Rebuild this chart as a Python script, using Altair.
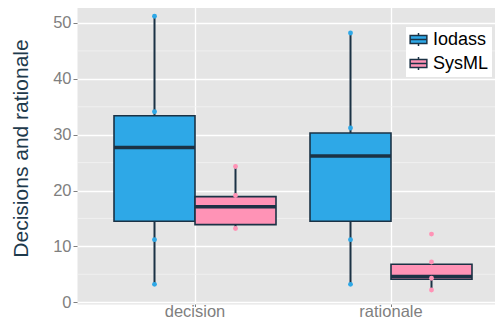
import altair as alt
import pandas as pd

# ---- data ----
categories = ["decision", "decision", "rationale", "rationale"]
groups = ["Iodass", "SysML", "Iodass", "SysML"]
lower = [3.2, 13.2, 3.2, 2.2]
q1 = [14.5, 13.9, 14.5, 4.1]
median = [27.7, 17.1, 26.2, 4.6]
q3 = [33.4, 18.9, 30.3, 6.8]
upper = [51.2, 24.3, 48.2, 7.2]

pt_category = ["decision"] * 7 + ["rationale"] * 8
pt_group = ["Iodass"] * 4 + ["SysML"] * 3 + ["Iodass"] * 4 + ["SysML"] * 4
pt_value = [51.2, 34.1, 11.2, 3.2, 24.3, 19.1, 13.2,
            48.2, 31.2, 11.2, 3.2, 12.2, 7.2, 4.3, 2.2]

y_ticks = [0, 10, 20, 30, 40, 50]
y_minor = [5, 15, 25, 35, 45]

series = ["Iodass", "SysML"]
colors = ["#2EA8E7", "#FF93B6"]
outline = "#1B3245"
FONT = "Liberation Sans"

box_df = pd.DataFrame({"category": categories, "group": groups, "lower": lower,
                       "q1": q1, "median": median, "q3": q3, "upper": upper})
pt_df = pd.DataFrame({"category": pt_category, "group": pt_group, "value": pt_value})
minor_df = pd.DataFrame({"v": y_minor})

xscale = alt.Scale(domain=["decision", "rationale"], paddingInner=0.1735,
                   paddingOuter=0.1531, align=0.6167)
yscale = alt.Scale(domain=[-0.32, 53.58], nice=False, zero=False)
offscale = alt.Scale(domain=series, paddingInner=0, paddingOuter=0)
fillscale = alt.Scale(domain=series, range=colors)

x_enc = alt.X("category:N", scale=xscale, title=None,
              axis=alt.Axis(bandPosition=0.5, labelAngle=0, labelFontSize=16.5,
                            labelColor="#7F7F7F", tickColor="#7F7F7F", tickSize=2.5,
                            labelPadding=10, labelBaseline="alphabetic",
                            domain=False, grid=True,
                            gridColor="white", gridWidth=1.3, labelFont=FONT))
y_axis = alt.Axis(values=y_ticks, labelFontSize=16.5, labelColor="#7F7F7F",
                  tickColor="#7F7F7F", tickSize=4, labelPadding=2, domain=False,
                  grid=True, gridColor="white", gridWidth=1.3, labelFont=FONT,
                  title="Decisions and rationale", titleFontSize=21,
                  titleColor="#1E3A4C", titleFontWeight="normal", titleFont=FONT,
                  titleX=-50, titleY=145, titleAngle=-90, titleAlign="center",
                  titleBaseline="alphabetic")

minor = alt.Chart(minor_df).mark_rule(color="#F2F2F2", strokeWidth=0.8).encode(
    y=alt.Y("v:Q", scale=yscale, axis=y_axis)
)

whisk = alt.Chart(box_df).mark_rule(color=outline, strokeWidth=2).encode(
    x=x_enc,
    xOffset=alt.XOffset("group:N", scale=offscale),
    y=alt.Y("lower:Q", scale=yscale),
    y2="upper:Q",
)

boxes = alt.Chart(box_df).mark_bar(stroke=outline, strokeWidth=1.6).encode(
    x=x_enc,
    xOffset=alt.XOffset("group:N", scale=offscale),
    y=alt.Y("q1:Q", scale=yscale),
    y2="q3:Q",
    fill=alt.Fill("group:N", scale=fillscale,
                  legend=alt.Legend(title=None, orient="none", legendX=329, legendY=24,
                                    padding=3, fillColor="white", labelColor="black",
                                    labelFontSize=18, labelFont=FONT, rowPadding=3,
                                    symbolType="M-1,-0.48H1V0.48H-1Z M0,-0.78V-0.48 M0,0.48V0.78 M-1,0H1",
                                    symbolSize=279, symbolStrokeColor=outline,
                                    symbolStrokeWidth=1.5, symbolOpacity=1,
                                    labelOffset=5)),
)

meds = alt.Chart(box_df).mark_tick(color=outline, thickness=3.5, size=81, opacity=1).encode(
    x=x_enc,
    xOffset=alt.XOffset("group:N", scale=offscale),
    y=alt.Y("median:Q", scale=yscale),
)

pts = alt.Chart(pt_df).mark_circle(size=24, opacity=1).encode(
    x=x_enc,
    xOffset=alt.XOffset("group:N", scale=offscale),
    y=alt.Y("value:Q", scale=yscale),
    fill=alt.Fill("group:N", scale=fillscale, legend=None),
)

chart = alt.layer(minor, whisk, boxes, meds, pts).properties(
    width=418, height=301, autosize="none",
    padding={"left": 69, "top": -5, "right": 0, "bottom": 16},
).configure_view(fill="#E5E5E5", stroke="transparent")

chart.save("out.html", embed_options={"renderer": "svg", "actions": False})
